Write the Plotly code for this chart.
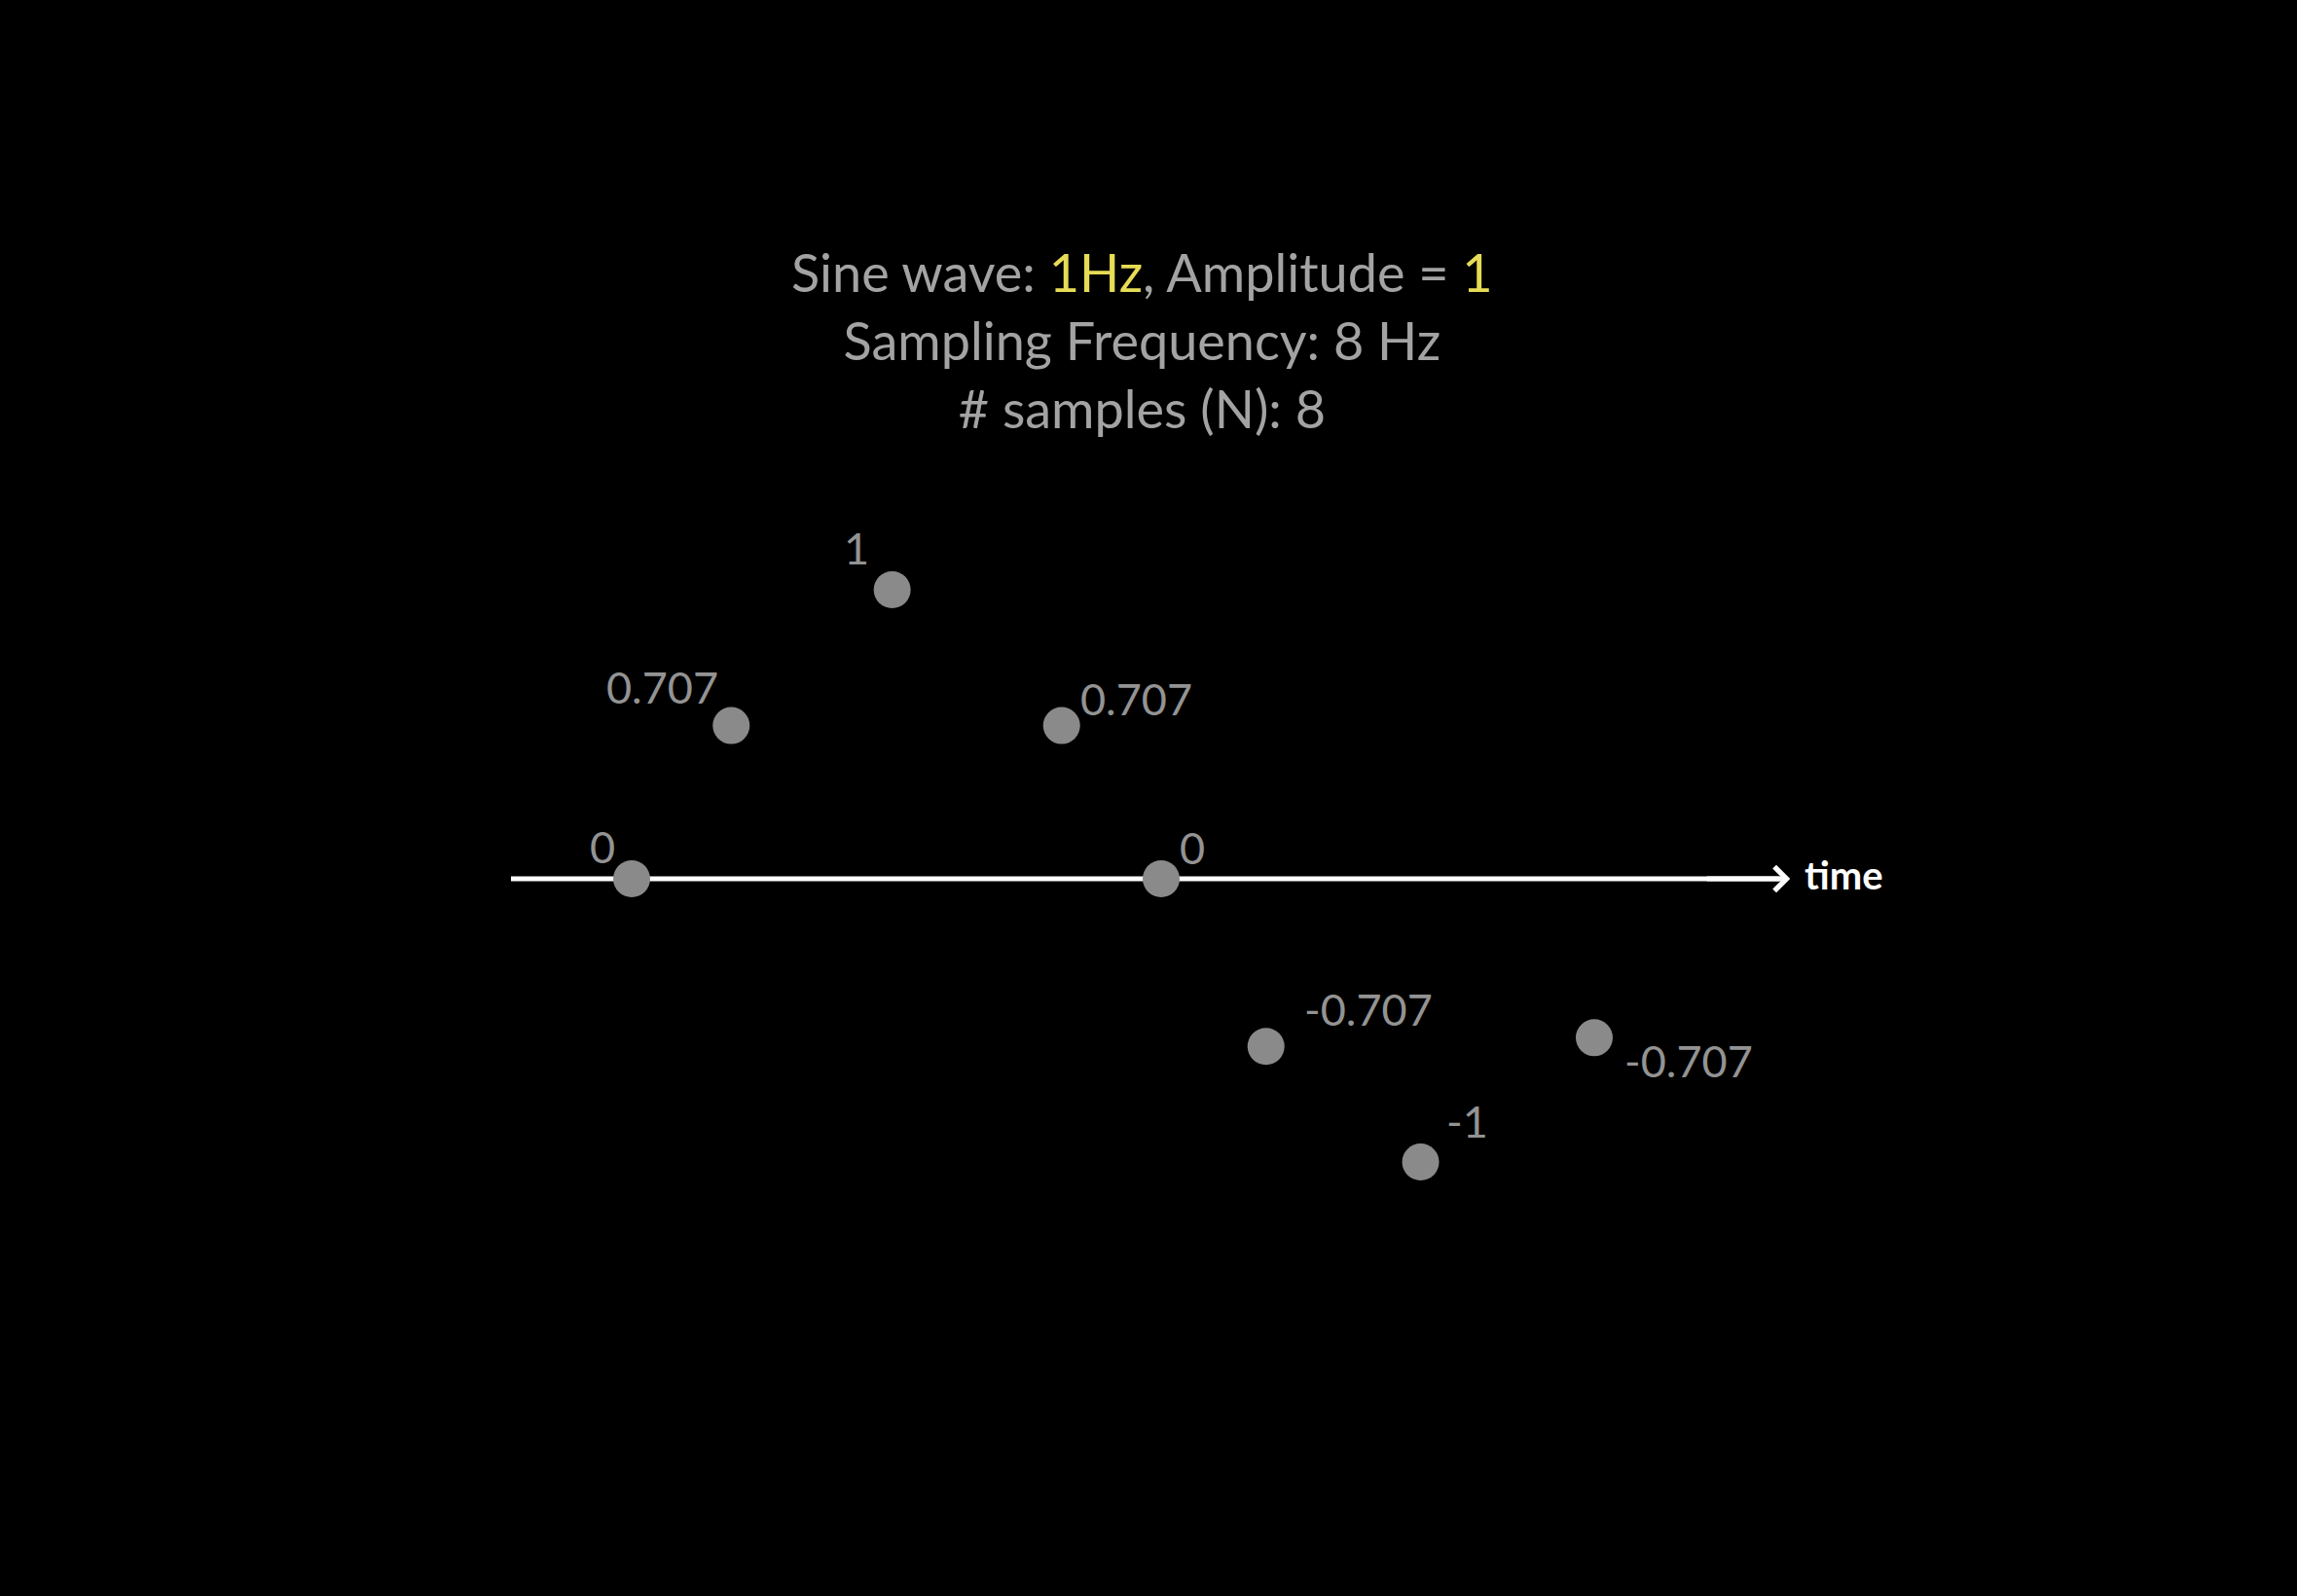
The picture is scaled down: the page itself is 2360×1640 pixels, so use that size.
import plotly.graph_objects as go

# ---- data ----
sample_times = [0.0, 0.094, 0.246, 0.406, 0.5, 0.599, 0.745, 0.909]      # position along the time axis
sample_heights = [0.0, 0.53, 1.0, 0.53, 0.0, -0.58, -0.98, -0.55]          # drawn height of each sample
sample_labels = ["0", "0.707", "1", "0.707", "0", "-0.707", "-1", "-0.707"]
axis_start, axis_end = -0.114, 1.094
axis_label = "time"
title_lines = [
    ("Sine wave: ", "1Hz", ", Amplitude = ", "1"),
    ("Sampling Frequency: 8 Hz",),
    ("# samples (N): 8",),
]

# ---- styling ----
W, H = 2360, 1640
X_PX0, X_SCALE = 649, 1088     # pixel of t=0, pixels per unit
Y_PX0, Y_SCALE = 903, 297      # pixel of y=0, pixels per unit
label_offsets = [(-30, 33), (-71, 40), (-37, 43), (77, 28),
                 (32, 32), (105, 38), (48, 42), (97, -24)]
FONT = "Lato, 'Open Sans', sans-serif"
GRAY_TXT = "#a3a3a3"
YELLOW = "#e6dc55"
DOT = "#8a8a8a"
LABEL = "#939393"

xr = [-X_PX0 / X_SCALE, (W - X_PX0) / X_SCALE]
yr = [-(H - Y_PX0) / Y_SCALE, Y_PX0 / Y_SCALE]

fig = go.Figure()
fig.add_trace(go.Scatter(
    x=sample_times, y=sample_heights, mode="markers",
    marker=dict(size=38, color=DOT, line=dict(width=0)),
    hoverinfo="skip", showlegend=False, cliponaxis=False,
))

# axis line (below the dots)
fig.add_shape(type="line", xref="x", yref="y",
              x0=axis_start, x1=axis_end - 0.01, y0=0, y1=0,
              line=dict(color="white", width=5), layer="below")

annotations = []
# arrow head
annotations.append(dict(x=axis_end, y=0, ax=axis_end - 0.08, ay=0,
                        xref="x", yref="y", axref="x", ayref="y",
                        text="", showarrow=True, arrowhead=4,
                        arrowwidth=5, arrowsize=0.95, arrowcolor="white"))
# axis label
annotations.append(dict(x=axis_end, y=0, xref="x", yref="y",
                        text="<b>" + axis_label + "</b>", showarrow=False,
                        xanchor="left", yanchor="middle", xshift=13, yshift=4,
                        font=dict(family=FONT, size=40, color="white")))
# sample labels
for t, h, lab, (dx, dy) in zip(sample_times, sample_heights, sample_labels, label_offsets):
    annotations.append(dict(x=t, y=h, xref="x", yref="y", text=lab,
                            showarrow=False, xanchor="center", yanchor="middle",
                            xshift=dx, yshift=dy,
                            font=dict(family=FONT, size=45, color=LABEL)))

# title block
def line_html(parts):
    out = []
    for i, p in enumerate(parts):
        if len(parts) > 1 and i % 2 == 1:
            out.append(f"<span style='color:{YELLOW}'>{p}</span>")
        else:
            out.append(p)
    return "".join(out)

title_html = "<br>".join(line_html(p) for p in title_lines)
annotations.append(dict(x=1173 / W, y=1 - 350 / H, xref="paper", yref="paper",
                        text=title_html, showarrow=False, align="center",
                        xanchor="center", yanchor="middle",
                        font=dict(family=FONT, size=54, color=GRAY_TXT)))

fig.update_layout(
    width=W, height=H,
    margin=dict(l=0, r=0, t=0, b=0),
    paper_bgcolor="black", plot_bgcolor="black",
    xaxis=dict(range=xr, visible=False, fixedrange=True),
    yaxis=dict(range=yr, visible=False, fixedrange=True),
    annotations=annotations,
    showlegend=False,
)

fig.write_html(
    "out.html",
    config={"displayModeBar": False},
    post_script="document.body.style.margin='0';document.body.style.background='black';",
)
